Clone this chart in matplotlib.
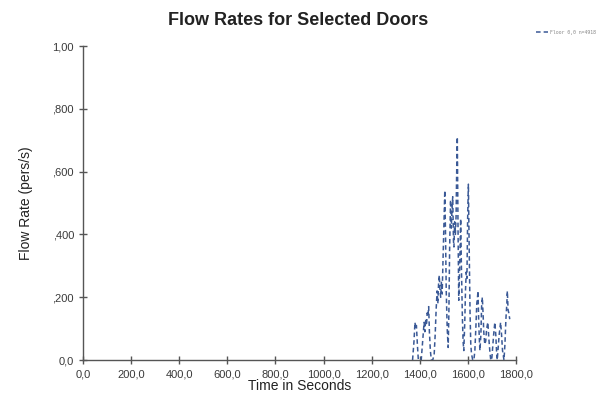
import matplotlib
matplotlib.use("Agg")
import matplotlib.pyplot as plt

# flow rate samples (time in s, rate in pers/s)
time_sec = [1370, 1376, 1380, 1383, 1386, 1390, 1394, 1400, 1406, 1410, 1414, 1418,
            1421, 1424, 1428, 1431, 1434, 1437, 1440, 1444, 1448, 1454, 1460, 1464,
            1468, 1472, 1475, 1478, 1481, 1484, 1487, 1490, 1493, 1496, 1500, 1504,
            1507, 1510, 1514, 1518, 1521, 1524, 1528, 1531, 1534, 1537, 1540, 1542,
            1545, 1548, 1551, 1553, 1556, 1559, 1562, 1566, 1570, 1573, 1577, 1580,
            1583, 1587, 1590, 1593, 1596, 1599, 1602, 1605, 1609, 1612, 1615, 1620,
            1625, 1629, 1633, 1637, 1640, 1642, 1645, 1648, 1650, 1654, 1657, 1660,
            1663, 1666, 1670, 1674, 1678, 1683, 1687, 1691, 1695, 1699, 1703, 1707,
            1712, 1716, 1719, 1722, 1726, 1730, 1736, 1740, 1744, 1750, 1754, 1758,
            1762, 1764, 1767, 1770, 1774]
flow_rate = [0.0, 0.06, 0.12, 0.10, 0.11, 0.05, 0.0, 0.0, 0.0, 0.04, 0.08, 0.12,
             0.09, 0.13, 0.11, 0.15, 0.14, 0.17, 0.09, 0.03, 0.0, 0.0, 0.02, 0.08,
             0.16, 0.22, 0.18, 0.24, 0.27, 0.22, 0.20, 0.25, 0.21, 0.30, 0.42, 0.54,
             0.40, 0.22, 0.10, 0.04, 0.15, 0.35, 0.51, 0.42, 0.48, 0.52, 0.38, 0.36,
             0.44, 0.40, 0.46, 0.58, 0.71, 0.42, 0.19, 0.30, 0.45, 0.30, 0.14, 0.06,
             0.03, 0.12, 0.22, 0.28, 0.26, 0.45, 0.56, 0.38, 0.15, 0.05, 0.02, 0.0,
             0.0, 0.03, 0.10, 0.18, 0.20, 0.22, 0.12, 0.06, 0.03, 0.08, 0.17, 0.20,
             0.15, 0.09, 0.05, 0.06, 0.10, 0.12, 0.07, 0.03, 0.0, 0.0, 0.04, 0.08,
             0.12, 0.08, 0.03, 0.0, 0.04, 0.08, 0.12, 0.08, 0.03, 0.0, 0.05, 0.13,
             0.18, 0.22, 0.16, 0.15, 0.13]

x_ticks = [0, 200, 400, 600, 800, 1000, 1200, 1400, 1600, 1800]
x_tick_labels = ["0,0", "200,0", "400,0", "600,0", "800,0", "1000,0",
                 "1200,0", "1400,0", "1600,0", "1800,0"]
y_ticks = [0, 0.2, 0.4, 0.6, 0.8, 1.0]
y_tick_labels = ["0,0", ",200", ",400", ",600", ",800", "1,00"]
series_label = "Floor 0,0 n=4918"

plt.rcParams['font.family'] = ['Liberation Sans', 'DejaVu Sans']

fig = plt.figure(figsize=(6.05, 3.94), dpi=100)
ax = fig.add_axes([83 / 605, 34 / 394, 433 / 605, 314 / 394])

ax.plot(time_sec, flow_rate, color='#3a5996', linewidth=1.1,
        linestyle=(0, (3, 2)), label=series_label)

ax.set_xlim(0, 1800)
ax.set_ylim(0, 1.0)
ax.set_xticks(x_ticks)
ax.set_xticklabels(x_tick_labels)
ax.set_yticks(y_ticks)
ax.set_yticklabels(y_tick_labels)

for side in ['top', 'right']:
    ax.spines[side].set_visible(False)
for side in ['left', 'bottom']:
    ax.spines[side].set_color('#555555')
    ax.spines[side].set_linewidth(1.0)
ax.tick_params(direction='inout', length=6, width=1.0, colors='#555555',
               labelcolor='#3a3a3a', labelsize=8)

ax.set_xlabel('Time in Seconds', fontsize=10, color='#222222', labelpad=0)
ax.set_ylabel('Flow Rate (pers/s)', fontsize=10, color='#222222', labelpad=14)
fig.text(0.493, 0.948, 'Flow Rates for Selected Doors', ha='center', va='center',
         fontsize=13, fontweight='bold', color='#222222')

leg = ax.legend(loc='upper left', bbox_to_anchor=(1.04, 1.06), frameon=False,
                fontsize=3.5, handlelength=2.5, borderpad=0, handletextpad=0.4)
for txt in leg.get_texts():
    txt.set_color('#888888')
    txt.set_family('DejaVu Sans Mono')

fig.savefig('out.png', dpi=100)
